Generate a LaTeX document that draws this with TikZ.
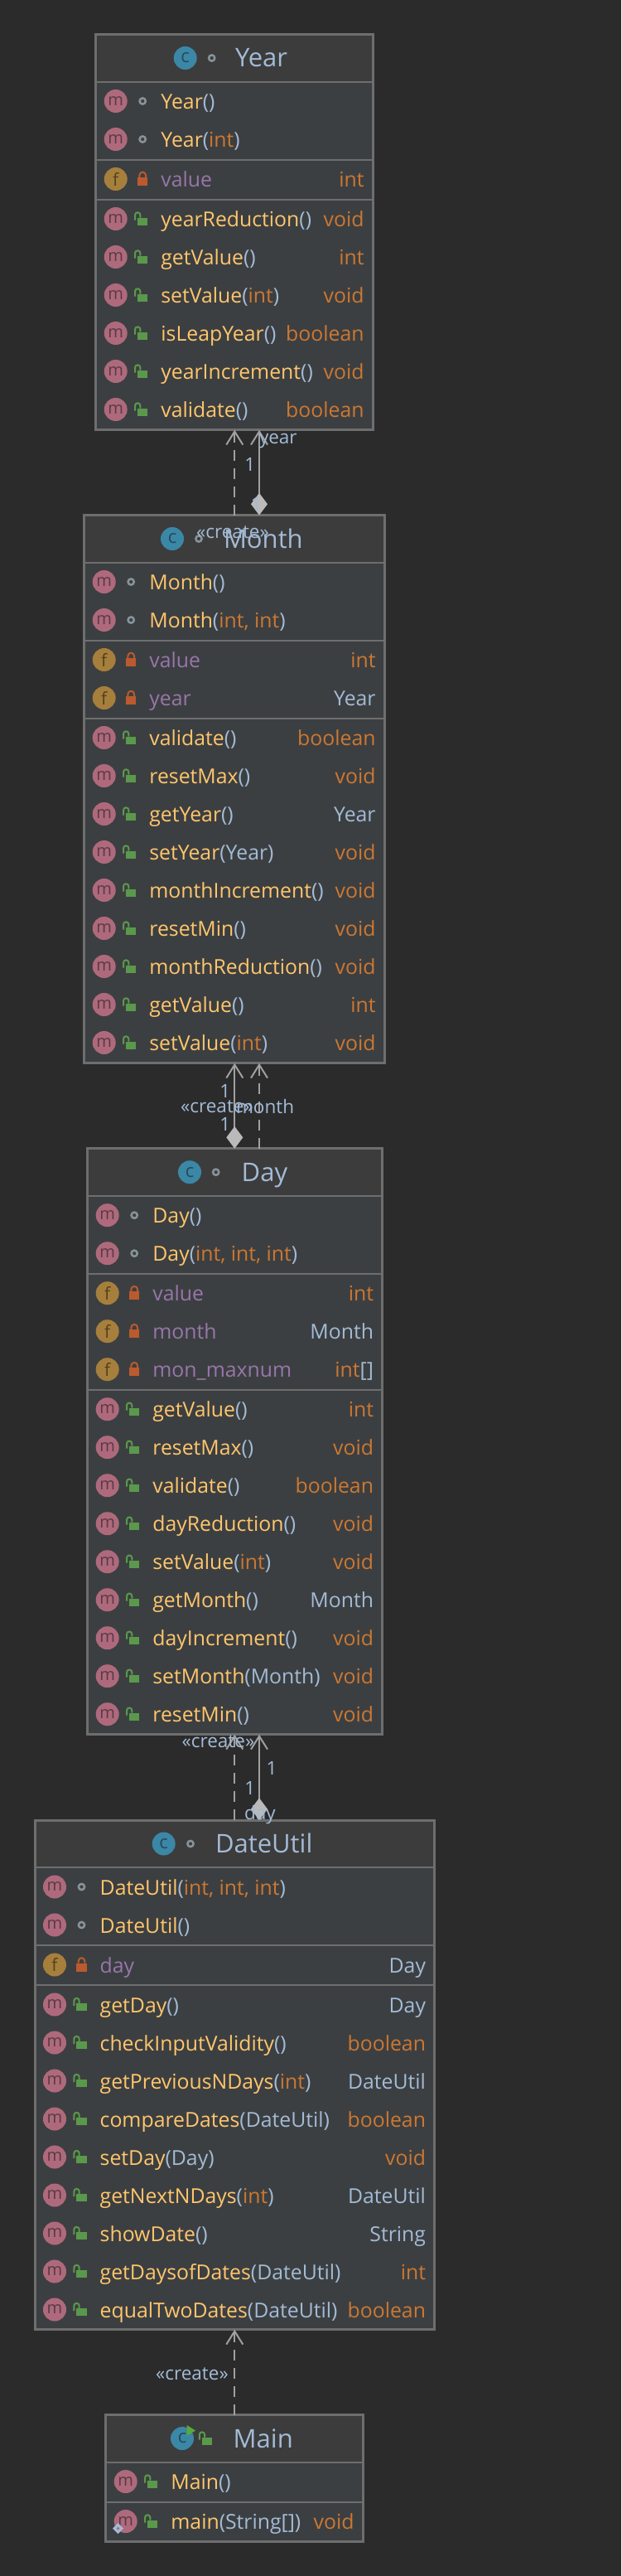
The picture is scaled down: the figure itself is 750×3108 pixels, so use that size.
\documentclass[tikz,border=0pt]{standalone}
\usepackage{fontspec}
\setmainfont{Open Sans}
\usetikzlibrary{arrows.meta}
\definecolor{bgc}{HTML}{2B2B2B}
\definecolor{rowc}{HTML}{3C3F41}
\definecolor{headc}{HTML}{3C3C3C}
\definecolor{edgec}{HTML}{6E6E6E}
\definecolor{namec}{HTML}{FFC66D}
\definecolor{plainc}{HTML}{A3BBD6}
\definecolor{typec}{HTML}{CC7832}
\definecolor{fieldc}{HTML}{9876AA}
\definecolor{micon}{HTML}{AE6A7C}
\definecolor{mletter}{HTML}{5A3A44}
\definecolor{ficon}{HTML}{A67F3C}
\definecolor{fletter}{HTML}{54401E}
\definecolor{cicon}{HTML}{3B87A6}
\definecolor{cletter}{HTML}{27495A}
\definecolor{lockred}{HTML}{BB5A2E}
\definecolor{lockgreen}{HTML}{5A994B}
\definecolor{dotc}{HTML}{87939A}
\definecolor{linec}{HTML}{A0A0A0}
\definecolor{diac}{HTML}{BABABA}
\definecolor{runc}{HTML}{59A83C}
\newcommand\pxf[1]{\fontsize{\fpeval{#1*0.75}pt}{\fpeval{#1*0.9}pt}\selectfont}
\newcommand\Nm[1]{\textcolor{namec}{#1}}
\newcommand\Pl[1]{\textcolor{plainc}{#1}}
\newcommand\Ty[1]{\textcolor{typec}{#1}}
\newcommand\Fl[1]{\textcolor{fieldc}{#1}}
\newcounter{nid}
\tikzset{
 x=0.75pt,y=-0.75pt,
 classbox/.style={draw=none,fill=rowc,inner sep=0pt,outer sep=0pt},
 headbox/.style={draw=none,fill=headc,inner sep=0pt,outer sep=0pt},
 edgeline/.style={draw=edgec,line width=2.25pt},
 divline/.style={draw=edgec,line width=1.5pt},
 textrow/.style={inner sep=0pt,outer sep=0pt,anchor=base west,font=\pxf{24.8}},
 typerow/.style={inner sep=0pt,outer sep=0pt,anchor=base east,font=\pxf{24.8}},
 titletext/.style={inner sep=0pt,outer sep=0pt,anchor=base west,font=\pxf{31},text=plainc},
 iconm/.style={circle,fill=micon,minimum size=21pt,inner sep=0pt,outer sep=0pt,text=mletter,font=\pxf{20}},
 iconf/.style={circle,fill=ficon,minimum size=21pt,inner sep=0pt,outer sep=0pt,text=fletter,font=\pxf{21}},
 iconc/.style={circle,fill=cicon,minimum size=21pt,inner sep=0pt,outer sep=0pt,text=cletter,font=\pxf{22}},
 connlabel/.style={inner sep=0pt,outer sep=0pt,text=plainc,font=\pxf{22.5}},
 dep/.style={draw=linec,line width=1.5pt,dash pattern=on 9.75pt off 6.75pt,
   -{Straight Barb[length=12pt,width=15pt,line width=1.5pt]}},
 comp/.style={draw=linec,line width=1.5pt,
   {Diamond[length=20pt,width=15pt,fill=diac,color=diac]}-{Straight Barb[length=12pt,width=15pt,line width=1.5pt]}},
}
% #1 name, #2 L, #3 R, #4 T, #5 B
\newcommand\classopen[5]{%
 \xdef\cL{#2}\xdef\cR{#3}\xdef\cT{#4}\xdef\cB{#5}%
 \pgfmathsetmacro\cw{(#3-#2)*0.75}\pgfmathsetmacro\ch{(#5-#4)*0.75}%
 \node[classbox,minimum width=\cw pt,minimum height=\ch pt] (#1) at ({(#2+#3)/2},{(#4+#5)/2}) {};%
 \pgfmathsetmacro\hc{(#4+#4+57.2)/2}%
 \node[headbox,minimum width=\cw pt,minimum height=42.9pt] (#1head) at ({(#2+#3)/2},\hc) {};%
 \pgfmathsetmacro\cury{#4+57.2}\xdef\curY{\cury}%
 \draw[divline] (#1head.south west) -- (#1head.south east);%
}
\newcommand\classclose[1]{\draw[edgeline] (#1.north west) rectangle (#1.south east);}
% #1 c x, #2 vis x, #3 text x, #4 vis kind, #5 title
\newcommand\classhead[5]{%
 \pgfmathsetmacro\ic{\cT+28.5}\pgfmathsetmacro\ib{\cT+39.5}%
 \stepcounter{nid}\node[iconc] (n\arabic{nid}) at (#1,\ic) {c};%
 \ifx#4o\visdot{#2}{\ic}\else\visopen{#2}{\ic}\fi
 \stepcounter{nid}\node[titletext] (n\arabic{nid}) at (#3,\ib) {#5};%
}
\newcommand\visdot[2]{\draw[draw=dotc,line width=1.9pt] (#1,#2) circle[radius=3.6];}
\newcommand\vislock[2]{%
 \fill[lockred] ({#1-6.2},{#2-2}) rectangle ({#1+6.2},{#2+8});%
 \draw[draw=lockred,line width=1.5pt] ({#1-3.8},{#2-2}) -- ({#1-3.8},{#2-4.5}) arc[start angle=180,end angle=360,radius=3.8] -- ({#1+3.8},{#2-2});%
}
\newcommand\visopen[2]{%
 \fill[lockgreen] ({#1-6.2},{#2-1.5}) rectangle ({#1+6.2},{#2+7.7});%
 \draw[draw=lockgreen,line width=1.5pt] ({#1-2.8},{#2-1.5}) -- ({#1-2.8},{#2-4.5}) arc[start angle=0,end angle=-180,radius=3.2] -- ({#1-9.2},{#2+1.5});%
}
% #1 icon m/f, #2 vis o/l/g, #3 text, #4 type
\newcommand\member[4]{%
 \pgfmathsetmacro\ry{\curY+23.3}\pgfmathsetmacro\rb{\ry+9.5}%
 \pgfmathsetmacro\ix{\cL+24}\pgfmathsetmacro\vx{\cL+56.5}\pgfmathsetmacro\tx{\cL+78.7}\pgfmathsetmacro\ex{\cR-10.7}%
 \stepcounter{nid}\node[icon#1] (n\arabic{nid}) at (\ix,\ry) {#1};%
 \ifx#2o\visdot{\vx}{\ry}\fi
 \ifx#2l\vislock{\vx}{\ry}\fi
 \ifx#2g\visopen{\vx}{\ry}\fi
 \stepcounter{nid}\node[textrow] (n\arabic{nid}) at (\tx,\rb) {#3};%
 \stepcounter{nid}\node[typerow] (n\arabic{nid}) at (\ex,\rb) {#4};%
 \pgfmathsetmacro\cury{\curY+46}\xdef\curY{\cury}%
}
\newcommand\secend{%
 \pgfmathsetmacro\cury{\curY+2}\xdef\curY{\cury}%
 \draw[divline] (\cL,\curY) -- (\cR,\curY);%
}
\begin{document}
\begin{tikzpicture}
\useasboundingbox[fill=bgc] (0,0) rectangle (750,3108);
\coordinate (xa) at (283.3,0);
\coordinate (xb) at (313,0);
\coordinate (xc) at (283.3,0);
% ---------- Year
\classopen{year}{115.7}{450.3}{41.5}{518.7}
\classhead{223.7}{255.7}{284}{o}{Year}
\member{m}{o}{\Nm{Year}\Pl{()}}{}
\member{m}{o}{\Nm{Year}\Pl{(}\Ty{int}\Pl{)}}{}
\secend
\member{f}{l}{\Fl{value}}{\Ty{int}}
\secend
\member{m}{g}{\Nm{yearReduction}\Pl{()}}{\Ty{void}}
\member{m}{g}{\Nm{getValue}\Pl{()}}{\Ty{int}}
\member{m}{g}{\Nm{setValue}\Pl{(}\Ty{int}\Pl{)}}{\Ty{void}}
\member{m}{g}{\Nm{isLeapYear}\Pl{()}}{\Ty{boolean}}
\member{m}{g}{\Nm{yearIncrement}\Pl{()}}{\Ty{void}}
\member{m}{g}{\Nm{validate}\Pl{()}}{\Ty{boolean}}
\classclose{year}
% ---------- Month
\classopen{month}{101.7}{464.3}{621.5}{1282.7}
\classhead{208}{240}{270}{o}{Month}
\member{m}{o}{\Nm{Month}\Pl{()}}{}
\member{m}{o}{\Nm{Month}\Pl{(}\Ty{int, int}\Pl{)}}{}
\secend
\member{f}{l}{\Fl{value}}{\Ty{int}}
\member{f}{l}{\Fl{year}}{\Pl{Year}}
\secend
\member{m}{g}{\Nm{validate}\Pl{()}}{\Ty{boolean}}
\member{m}{g}{\Nm{resetMax}\Pl{()}}{\Ty{void}}
\member{m}{g}{\Nm{getYear}\Pl{()}}{\Pl{Year}}
\member{m}{g}{\Nm{setYear}\Pl{(Year)}}{\Ty{void}}
\member{m}{g}{\Nm{monthIncrement}\Pl{()}}{\Ty{void}}
\member{m}{g}{\Nm{resetMin}\Pl{()}}{\Ty{void}}
\member{m}{g}{\Nm{monthReduction}\Pl{()}}{\Ty{void}}
\member{m}{g}{\Nm{getValue}\Pl{()}}{\Ty{int}}
\member{m}{g}{\Nm{setValue}\Pl{(}\Ty{int}\Pl{)}}{\Ty{void}}
\classclose{month}
% ---------- Day
\classopen{day}{105.7}{461.7}{1385.7}{2092.7}
\classhead{229}{260.7}{291.7}{o}{Day}
\member{m}{o}{\Nm{Day}\Pl{()}}{}
\member{m}{o}{\Nm{Day}\Pl{(}\Ty{int, int, int}\Pl{)}}{}
\secend
\member{f}{l}{\Fl{value}}{\Ty{int}}
\member{f}{l}{\Fl{month}}{\Pl{Month}}
\member{f}{l}{\Fl{mon\_maxnum}}{\Ty{int}\Pl{[]}}
\secend
\member{m}{g}{\Nm{getValue}\Pl{()}}{\Ty{int}}
\member{m}{g}{\Nm{resetMax}\Pl{()}}{\Ty{void}}
\member{m}{g}{\Nm{validate}\Pl{()}}{\Ty{boolean}}
\member{m}{g}{\Nm{dayReduction}\Pl{()}}{\Ty{void}}
\member{m}{g}{\Nm{setValue}\Pl{(}\Ty{int}\Pl{)}}{\Ty{void}}
\member{m}{g}{\Nm{getMonth}\Pl{()}}{\Pl{Month}}
\member{m}{g}{\Nm{dayIncrement}\Pl{()}}{\Ty{void}}
\member{m}{g}{\Nm{setMonth}\Pl{(Month)}}{\Ty{void}}
\member{m}{g}{\Nm{resetMin}\Pl{()}}{\Ty{void}}
\classclose{day}
% ---------- DateUtil
\classopen{dateutil}{42}{524.7}{2196}{2810.7}
\classhead{197.7}{230}{260}{o}{DateUtil}
\member{m}{o}{\Nm{DateUtil}\Pl{(}\Ty{int, int, int}\Pl{)}}{}
\member{m}{o}{\Nm{DateUtil}\Pl{()}}{}
\secend
\member{f}{l}{\Fl{day}}{\Pl{Day}}
\secend
\member{m}{g}{\Nm{getDay}\Pl{()}}{\Pl{Day}}
\member{m}{g}{\Nm{checkInputValidity}\Pl{()}}{\Ty{boolean}}
\member{m}{g}{\Nm{getPreviousNDays}\Pl{(}\Ty{int}\Pl{)}}{\Pl{DateUtil}}
\member{m}{g}{\Nm{compareDates}\Pl{(DateUtil)}}{\Ty{boolean}}
\member{m}{g}{\Nm{setDay}\Pl{(Day)}}{\Ty{void}}
\member{m}{g}{\Nm{getNextNDays}\Pl{(}\Ty{int}\Pl{)}}{\Pl{DateUtil}}
\member{m}{g}{\Nm{showDate}\Pl{()}}{\Pl{String}}
\member{m}{g}{\Nm{getDaysofDates}\Pl{(DateUtil)}}{\Ty{int}}
\member{m}{g}{\Nm{equalTwoDates}\Pl{(DateUtil)}}{\Ty{boolean}}
\classclose{dateutil}
% ---------- Main
\classopen{main}{127.7}{438.3}{2913.5}{3066}
\classhead{220}{250}{281.7}{g}{Main}
\fill[runc] (225.7,2926) -- (236,2932.5) -- (225.7,2939) -- cycle;
\member{m}{g}{\Nm{Main}\Pl{()}}{}
\secend
\member{m}{g}{\Nm{main}\Pl{(String[])}}{\Ty{void}}
\classclose{main}
\fill[plainc] (142.5,3044) -- (149,3050.5) -- (142.5,3057) -- (136,3050.5) -- cycle;
\fill[micon] (142.5,3048.5) -- (144.5,3050.5) -- (142.5,3052.5) -- (140.5,3050.5) -- cycle;
% ---------- connectors
\draw[dep] (month.north -| xa) -- (year.south -| xa);
\draw[comp] (month.north -| xb) -- (year.south -| xb);
\draw[comp] (day.north -| xa) -- (month.south -| xa);
\draw[dep] (day.north -| xb) -- (month.south -| xb);
\draw[dep] (dateutil.north -| xa) -- (day.south -| xa);
\draw[comp] (dateutil.north -| xb) -- (day.south -| xb);
\draw[dep] (main.north -| xc) -- (dateutil.south -| xc);
% ---------- connector labels
\node[connlabel,anchor=west] (yl1) at (313,532) {year};
\node[connlabel] (yl2) at (301.7,560) {1};
\node[connlabel] (yl3) at (309,608) {1};
\node[connlabel] (yl4) at (281,641.7) {«create»};
\node[connlabel] (ml1) at (271.7,1316) {1};
\node[connlabel] (ml2) at (262,1335) {«create»};
\node[connlabel,anchor=west] (ml3) at (285,1335) {month};
\node[connlabel] (ml4) at (271.7,1356) {1};
\node[connlabel] (dl1) at (263.5,2100.7) {«create»};
\node[connlabel] (dl2) at (328,2133) {1};
\node[connlabel] (dl3) at (301.7,2157) {1};
\node[connlabel,anchor=west] (dl4) at (295,2190) {day};
\node[connlabel] (ul1) at (232,2864) {«create»};
\end{tikzpicture}
\end{document}
